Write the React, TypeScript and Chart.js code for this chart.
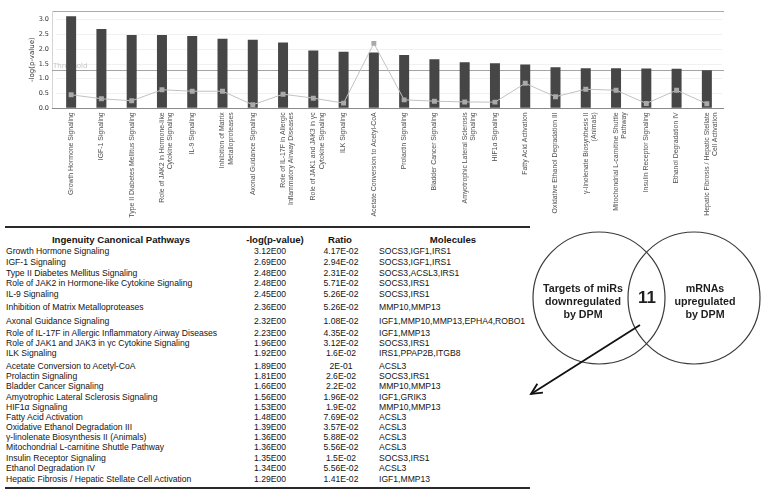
import React, { useEffect, useRef } from "react";
import { Chart, registerables } from "chart.js";

Chart.register(...registerables);

// ---------- DATA ----------
const pathways = [
  "Growth Hormone Signaling",
  "IGF-1 Signaling",
  "Type II Diabetes Mellitus Signaling",
  "Role of JAK2 in Hormone-like Cytokine Signaling",
  "IL-9 Signaling",
  "Inhibition of Matrix Metalloproteases",
  "Axonal Guidance Signaling",
  "Role of IL-17F in Allergic Inflammatory Airway Diseases",
  "Role of JAK1 and JAK3 in γc Cytokine Signaling",
  "ILK Signaling",
  "Acetate Conversion to Acetyl-CoA",
  "Prolactin Signaling",
  "Bladder Cancer Signaling",
  "Amyotrophic Lateral Sclerosis Signaling",
  "HIF1α Signaling",
  "Fatty Acid Activation",
  "Oxidative Ethanol Degradation III",
  "γ-linolenate Biosynthesis II (Animals)",
  "Mitochondrial L-carnitine Shuttle Pathway",
  "Insulin Receptor Signaling",
  "Ethanol Degradation IV",
  "Hepatic Fibrosis / Hepatic Stellate Cell Activation",
];

const axisLabels: (string | string[])[] = [
  "Growth Hormone Signaling",
  "IGF-1 Signaling",
  "Type II Diabetes Mellitus Signaling",
  ["Role of JAK2 in Hormone-like", "Cytokine Signaling"],
  "IL-9 Signaling",
  ["Inhibition of Matrix", "Metalloproteases"],
  "Axonal Guidance Signaling",
  ["Role of IL-17F in Allergic", "Inflammatory Airway Diseases"],
  ["Role of JAK1 and JAK3 in γc", "Cytokine Signaling"],
  "ILK Signaling",
  "Acetate Conversion to Acetyl-CoA",
  "Prolactin Signaling",
  "Bladder Cancer Signaling",
  ["Amyotrophic Lateral Sclerosis", "Signaling"],
  "HIF1α Signaling",
  "Fatty Acid Activation",
  "Oxidative Ethanol Degradation III",
  ["γ-linolenate Biosynthesis II", "(Animals)"],
  ["Mitochondrial L-carnitine Shuttle", "Pathway"],
  "Insulin Receptor Signaling",
  "Ethanol Degradation IV",
  ["Hepatic Fibrosis / Hepatic Stellate", "Cell Activation"],
];

const negLogP = [3.12, 2.69, 2.48, 2.48, 2.45, 2.36, 2.32, 2.23, 1.96, 1.92, 1.89, 1.81, 1.66, 1.56, 1.53, 1.48, 1.39, 1.36, 1.36, 1.35, 1.34, 1.29];
const negLogPText = ["3.12E00", "2.69E00", "2.48E00", "2.48E00", "2.45E00", "2.36E00", "2.32E00", "2.23E00", "1.96E00", "1.92E00", "1.89E00", "1.81E00", "1.66E00", "1.56E00", "1.53E00", "1.48E00", "1.39E00", "1.36E00", "1.36E00", "1.35E00", "1.34E00", "1.29E00"];
const ratios = [0.0417, 0.0294, 0.0231, 0.0571, 0.0526, 0.0526, 0.0108, 0.0435, 0.0312, 0.016, 0.2, 0.026, 0.022, 0.0196, 0.019, 0.0769, 0.0357, 0.0588, 0.0556, 0.015, 0.0556, 0.0141];
const ratioText = ["4.17E-02", "2.94E-02", "2.31E-02", "5.71E-02", "5.26E-02", "5.26E-02", "1.08E-02", "4.35E-02", "3.12E-02", "1.6E-02", "2E-01", "2.6E-02", "2.2E-02", "1.96E-02", "1.9E-02", "7.69E-02", "3.57E-02", "5.88E-02", "5.56E-02", "1.5E-02", "5.56E-02", "1.41E-02"];
const molecules = [
  "SOCS3,IGF1,IRS1", "SOCS3,IGF1,IRS1", "SOCS3,ACSL3,IRS1", "SOCS3,IRS1", "SOCS3,IRS1",
  "MMP10,MMP13", "IGF1,MMP10,MMP13,EPHA4,ROBO1", "IGF1,MMP13", "SOCS3,IRS1", "IRS1,PPAP2B,ITGB8",
  "ACSL3", "SOCS3,IRS1", "MMP10,MMP13", "IGF1,GRIK3", "MMP10,MMP13", "ACSL3", "ACSL3", "ACSL3",
  "ACSL3", "SOCS3,IRS1", "ACSL3", "IGF1,MMP13",
];
const yTicks = [0, 0.5, 1.0, 1.5, 2.0, 2.5, 3.0];
const THRESHOLD = 1.3;
const Y_MAX = 3.3;
const RATIO_MAX = 0.3;
const tableHeaders = ["Ingenuity Canonical Pathways", "-log(p-value)", "Ratio", "Molecules"];
const vennLeft = ["Targets of miRs", "downregulated", "by DPM"];
const vennRight = ["mRNAs", "upregulated", "by DPM"];
const vennOverlap = "11";

// ---------- LAYOUT (not data) ----------
const rowCenters = [250.7, 261.7, 272.5, 283.3, 293.5, 306.8, 320.5, 333.3, 343.3, 352.5, 365.5, 375.7, 386, 396.7, 407, 416.7, 427, 436.7, 447.3, 457.7, 467.7, 479.3];
const FONT = '"Liberation Sans", Arial, Helvetica, sans-serif';

const extrasPlugin = {
  id: "extras",
  beforeDatasetsDraw(chart: any) {
    const { ctx, chartArea: a, scales } = chart;
    const y = scales.y;
    const L = a.left - 4;
    const R = a.right + 2;
    ctx.save();
    ctx.lineWidth = 1;
    const line = (x1: number, y1: number, x2: number, y2: number, c: string) => {
      ctx.strokeStyle = c;
      ctx.beginPath();
      ctx.moveTo(x1, y1);
      ctx.lineTo(x2, y2);
      ctx.stroke();
    };
    line(L, Math.round(a.top) + 0.5, R, Math.round(a.top) + 0.5, "#ababab");
    line(L + 0.5, a.top, L + 0.5, a.bottom, "#d4d4d4");
    const ty = Math.round(y.getPixelForValue(THRESHOLD)) + 0.5;
    line(L, ty, R, ty, "#a4a4a4");
    ctx.fillStyle = "#c6c6c6";
    ctx.font = '7px "DejaVu Sans"';
    ctx.textBaseline = "bottom";
    ctx.textAlign = "left";
    ctx.fillText("Threshold", L + 1, ty - 0.5);
    ctx.restore();
  },
  afterDatasetsDraw(chart: any) {
    const { ctx, chartArea: a } = chart;
    ctx.save();
    ctx.strokeStyle = "#8a8a8a";
    ctx.lineWidth = 1;
    ctx.beginPath();
    ctx.moveTo(a.left - 4, Math.round(a.bottom) + 0.5);
    ctx.lineTo(a.right + 2, Math.round(a.bottom) + 0.5);
    ctx.stroke();
    ctx.restore();
  },
};

function ChartPart() {
  const ref = useRef<HTMLCanvasElement>(null);
  useEffect(() => {
    const chart = new Chart(ref.current as HTMLCanvasElement, {
      type: "bar",
      data: {
        labels: axisLabels as any,
        datasets: [
          {
            type: "line",
            data: ratios,
            yAxisID: "y2",
            borderColor: "#c2c2c2",
            borderWidth: 1,
            pointStyle: "rect",
            pointRadius: 3.5,
            pointBackgroundColor: "#a9a9a9",
            pointBorderWidth: 0,
            tension: 0,
            order: 0,
          } as any,
          {
            type: "bar",
            data: negLogP,
            yAxisID: "y",
            backgroundColor: "#464646",
            barPercentage: 0.33,
            categoryPercentage: 1,
            order: 1,
          },
        ],
      },
      options: {
        responsive: false,
        animation: false,
        devicePixelRatio: 1,
        layout: { padding: { left: 25, right: 42, top: 5, bottom: 0 } },
        plugins: { legend: { display: false }, tooltip: { enabled: false } },
        scales: {
          x: {
            grid: { display: false, drawTicks: false },
            border: { display: false },
            ticks: {
              autoSkip: false,
              maxRotation: 90,
              minRotation: 90,
              padding: 4,
              color: "#505050",
              font: { family: "Liberation Sans", size: 6.9 },
            },
            afterFit: (s: any) => {
              s.height = 117.7;
            },
          },
          y: {
            min: 0,
            max: Y_MAX,
            grid: { color: "#f1f1f1", drawTicks: false },
            border: { display: false },
            ticks: {
              padding: 7,
              color: "#333",
              font: { family: "DejaVu Sans", size: 6.5 },
              callback: (v: any) => Number(v).toFixed(1),
            },
            afterBuildTicks: (s: any) => {
              s.ticks = yTicks.map((v) => ({ value: v }));
            },
            title: {
              display: true,
              text: "-log(p-value)",
              color: "#333",
              font: { family: "DejaVu Sans", size: 7 },
              padding: { top: 3, bottom: 0 },
            },
            afterFit: (s: any) => {
              s.width = 31;
            },
          },
          y2: { display: false, min: 0, max: RATIO_MAX },
        },
      } as any,
      plugins: [extrasPlugin],
    });
    return () => chart.destroy();
  }, []);
  return (
    <canvas
      ref={ref}
      width={764}
      height={226}
      style={{ position: "absolute", left: 0, top: 0, width: 764, height: 226 }}
    />
  );
}

function Table() {
  const cell = (left: number, y: number, text: string, extra: any = {}) => (
    <div
      style={{
        position: "absolute",
        left,
        top: y - 5,
        height: 10,
        lineHeight: "10px",
        fontSize: 8.6,
        whiteSpace: "nowrap",
        color: "#141414",
        ...extra,
      }}
    >
      {text}
    </div>
  );
  const head = (center: number, text: string) => (
    <div
      style={{
        position: "absolute",
        left: center - 80,
        width: 160,
        textAlign: "center",
        top: 240 - 6,
        height: 12,
        lineHeight: "12px",
        fontSize: 9.6,
        fontWeight: "bold",
        color: "#141414",
        whiteSpace: "nowrap",
      }}
    >
      {text}
    </div>
  );
  return (
    <>
      <div style={{ position: "absolute", left: 5, top: 226, width: 525, height: 2, background: "#2a2a2a" }} />
      <div style={{ position: "absolute", left: 5, top: 486.5, width: 525, height: 2, background: "#2a2a2a" }} />
      {head(121, tableHeaders[0])}
      {head(275, tableHeaders[1])}
      {head(340, tableHeaders[2])}
      {head(453, tableHeaders[3])}
      {pathways.map((p, i) => (
        <React.Fragment key={i}>
          {cell(6, rowCenters[i], p)}
          {cell(254, rowCenters[i], negLogPText[i])}
          {cell(311, rowCenters[i], ratioText[i], { width: 60, textAlign: "center" })}
          {cell(379, rowCenters[i], molecules[i])}
        </React.Fragment>
      ))}
    </>
  );
}

function Venn() {
  const tip = { x: 531, y: 394 };
  const start = { x: 640, y: 325 };
  const ang = Math.atan2(start.y - tip.y, start.x - tip.x);
  const wing = 12;
  const spread = 0.45;
  const w1 = { x: tip.x + wing * Math.cos(ang + spread), y: tip.y + wing * Math.sin(ang + spread) };
  const w2 = { x: tip.x + wing * Math.cos(ang - spread), y: tip.y + wing * Math.sin(ang - spread) };
  const textStyle: any = { fontFamily: FONT, fontWeight: "bold", fontSize: 10.7, fill: "#1e1e1e" };
  return (
    <svg
      width={764}
      height={493}
      style={{ position: "absolute", left: 0, top: 0, pointerEvents: "none" }}
    >
      <circle cx={599} cy={298} r={66} fill="none" stroke="#3a3a3a" strokeWidth={1.2} />
      <circle cx={694} cy={298} r={66} fill="none" stroke="#3a3a3a" strokeWidth={1.2} />
      {vennLeft.map((t, i) => (
        <text key={"l" + i} x={583} y={292 + i * 13} textAnchor="middle" style={textStyle}>
          {t}
        </text>
      ))}
      {vennRight.map((t, i) => (
        <text key={"r" + i} x={705} y={292 + i * 13} textAnchor="middle" style={textStyle}>
          {t}
        </text>
      ))}
      <text x={647} y={303} textAnchor="middle" style={{ ...textStyle, fontSize: 17 }}>
        {vennOverlap}
      </text>
      <line x1={start.x} y1={start.y} x2={tip.x} y2={tip.y} stroke="#111" strokeWidth={1.8} />
      <polyline
        points={`${w1.x},${w1.y} ${tip.x},${tip.y} ${w2.x},${w2.y}`}
        fill="none"
        stroke="#111"
        strokeWidth={1.8}
      />
    </svg>
  );
}

export default function App() {
  return (
    <div
      style={{
        position: "absolute",
        left: 0,
        top: 0,
        width: 764,
        height: 493,
        background: "#fff",
        overflow: "hidden",
        fontFamily: FONT,
      }}
    >
      <ChartPart />
      <Table />
      <Venn />
    </div>
  );
}
